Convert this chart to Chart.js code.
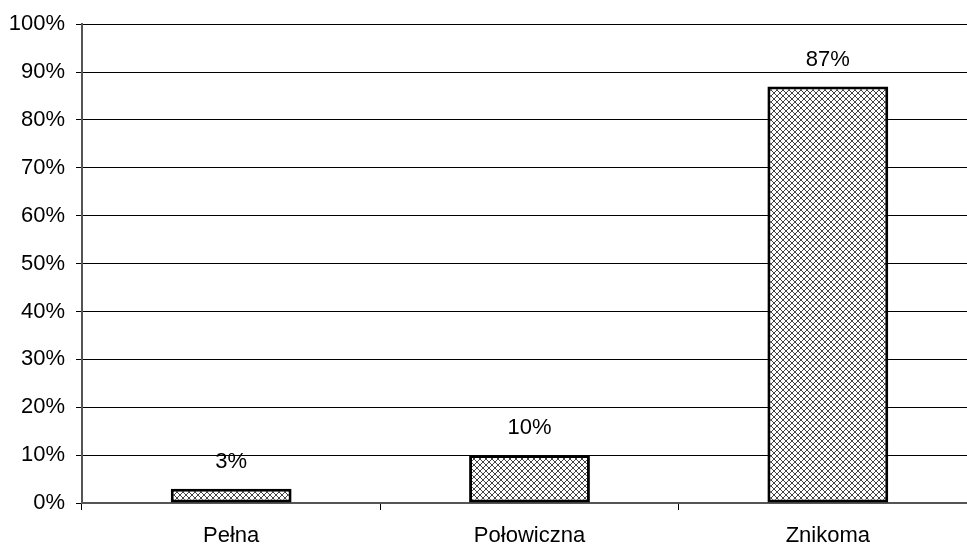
<!DOCTYPE html>
<html>
<head>
<meta charset="utf-8">
<script src="https://cdn.jsdelivr.net/npm/chart.js@4/dist/chart.umd.min.js"></script>
<style>
  html, body { margin: 0; padding: 0; background: #fff; overflow: hidden; }
  #wrap { width: 980px; height: 549px; }
</style>
</head>
<body>
<div id="wrap"><canvas id="c" width="980" height="549"></canvas></div>
<script>
// Categories and shares (percent)
const categories = ['Pełna', 'Połowiczna', 'Znikoma'];
const shares = [3, 10, 87];
const yTicks = [0, 10, 20, 30, 40, 50, 60, 70, 80, 90, 100];

const FONT = '"Liberation Sans", Arial, Helvetica, sans-serif';
const FONT_SIZE = 22;

// Small ring hatch used as the bar fill (6x6 tile, one ring per tile)
function ringPattern() {
  const tile = [
    '..##..',
    '.#..#.',
    '#....#',
    '#....#',
    '.#..#.',
    '..##..'
  ];
  const p = document.createElement('canvas');
  p.width = 6; p.height = 6;
  const g = p.getContext('2d');
  g.fillStyle = '#fff';
  g.fillRect(0, 0, 6, 6);
  g.fillStyle = '#444';
  tile.forEach((row, y) => {
    [...row].forEach((c, x) => { if (c === '#') g.fillRect(x, y, 1, 1); });
  });
  return g.createPattern(p, 'repeat');
}

// Writes each bar's value above it
const valueLabels = {
  id: 'valueLabels',
  afterDatasetsDraw(chart) {
    const ctx = chart.ctx;
    const meta = chart.getDatasetMeta(0);
    ctx.save();
    ctx.font = FONT_SIZE + 'px ' + FONT;
    ctx.fillStyle = '#000';
    ctx.textAlign = 'center';
    ctx.textBaseline = 'bottom';
    meta.data.forEach((bar, i) => {
      ctx.fillText(shares[i] + '%', bar.x, bar.y - 16);
    });
    ctx.restore();
  }
};

new Chart(document.getElementById('c'), {
  type: 'bar',
  data: {
    labels: categories,
    datasets: [{
      data: shares,
      backgroundColor: ringPattern(),
      borderColor: '#000',
      borderWidth: 3,
      borderSkipped: false,
      categoryPercentage: 1,
      barPercentage: 0.405
    }]
  },
  options: {
    responsive: false,
    animation: false,
    layout: { padding: { top: 23, right: 3, left: 0, bottom: 0 } },
    plugins: { legend: { display: false }, tooltip: { enabled: false } },
    scales: {
      x: {
        offset: true,
        grid: { offset: true, drawOnChartArea: false, drawTicks: true, tickLength: 7, color: '#000', lineWidth: 1 },
        border: { color: '#555', width: 2 },
        ticks: { color: '#000', font: { family: FONT, size: FONT_SIZE }, padding: 13, maxRotation: 0 },
        afterFit(s) { s.height = 46; }
      },
      y: {
        min: 0, max: 100,
        afterBuildTicks(s) { s.ticks = yTicks.map(v => ({ value: v })); },
        grid: { color: '#000', lineWidth: 1, drawTicks: true, tickLength: 6 },
        border: { color: '#555', width: 2 },
        ticks: { color: '#000', font: { family: FONT, size: FONT_SIZE }, padding: 11, callback: v => v + '%' },
        afterFit(s) { s.width = 82; }
      }
    }
  },
  plugins: [valueLabels]
});
</script>
</body>
</html>
